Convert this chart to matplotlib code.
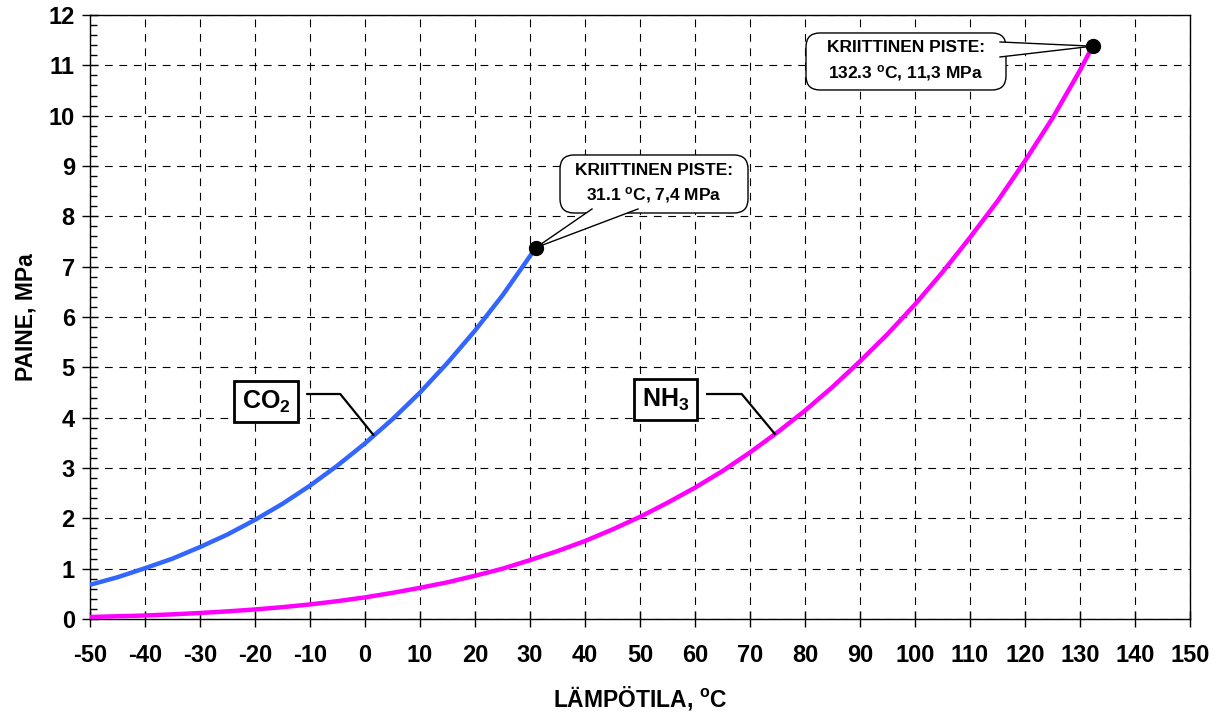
import numpy as np
import matplotlib
matplotlib.use("Agg")
import matplotlib.pyplot as plt
from matplotlib.patches import FancyBboxPatch, Polygon
from matplotlib.ticker import MultipleLocator

plt.rcParams["font.family"] = ["Liberation Sans", "DejaVu Sans"]
plt.rcParams["font.weight"] = "bold"
plt.rcParams["axes.unicode_minus"] = False
plt.rcParams["mathtext.fontset"] = "custom"
plt.rcParams["mathtext.rm"] = "Liberation Sans:bold"
plt.rcParams["mathtext.bf"] = "Liberation Sans:bold"
plt.rcParams["mathtext.it"] = "Liberation Sans:bold"

# saturation pressure curves, MPa
co2_t = [-50, -45, -40, -35, -30, -25, -20, -15, -10, -5, 0, 5, 10, 15, 20, 25, 30, 31.1]
co2_p = [0.68, 0.83, 1.01, 1.20, 1.43, 1.68, 1.97, 2.29, 2.65, 3.05, 3.49, 3.97,
         4.50, 5.09, 5.73, 6.43, 7.21, 7.38]
nh3_t = [-50, -45, -40, -35, -30, -25, -20, -15, -10, -5, 0, 5, 10, 15, 20, 25, 30,
         35, 40, 45, 50, 55, 60, 65, 70, 75, 80, 85, 90, 95, 100, 105, 110, 115,
         120, 125, 130, 132.3]
nh3_p = [0.04, 0.055, 0.07, 0.093, 0.12, 0.152, 0.19, 0.236, 0.29, 0.355, 0.43,
         0.52, 0.62, 0.73, 0.86, 1.00, 1.17, 1.35, 1.55, 1.78, 2.03, 2.31, 2.61,
         2.94, 3.31, 3.71, 4.14, 4.61, 5.12, 5.66, 6.25, 6.89, 7.58, 8.30, 9.10,
         9.95, 10.90, 11.38]
CO2_COL = "#3366ff"
NH3_COL = "#ff00ff"

fig = plt.figure(figsize=(12.2, 7.13), dpi=100)
ax = fig.add_axes([0.0738, 0.1318, 0.9016, 0.8472])

ax.plot(co2_t, co2_p, color=CO2_COL, lw=3.2, solid_capstyle="butt", zorder=3)
ax.plot(nh3_t, nh3_p, color=NH3_COL, lw=3.2, solid_capstyle="butt", zorder=3)
ax.plot(co2_t[-1], co2_p[-1], "o", color="black", ms=10, zorder=8)
ax.plot(nh3_t[-1], nh3_p[-1], "o", color="black", ms=10, zorder=8)

ax.set_xlim(-50, 150)
ax.set_ylim(0, 12)
ax.xaxis.set_major_locator(MultipleLocator(10))
ax.yaxis.set_major_locator(MultipleLocator(1))
ax.yaxis.set_minor_locator(MultipleLocator(0.2))
ax.tick_params(axis="both", which="major", direction="inout", length=12,
               width=1, labelsize=17, pad=5, color="black")
ax.tick_params(axis="x", which="major", pad=12)
ax.tick_params(axis="y", which="minor", direction="in", length=5, width=1)
ax.grid(True, which="major", color="black", lw=0.8, ls=(0, (7, 6)))
for s in ax.spines.values():
    s.set_linewidth(1.0)
    s.set_color("black")

ax.set_xlabel(r"LÄMPÖTILA, $^{\mathrm{o}}$C", fontsize=16.5, fontweight="bold", labelpad=12)
ax.set_ylabel("PAINE, MPa", fontsize=16.5, fontweight="bold", labelpad=8)

# scale helpers: pixels -> data units
XU = 200 / 1100.0
YU = 12 / 604.0


def callout(x0, y0, w, h, base, tip, text):
    box = FancyBboxPatch((x0, y0), w, h, boxstyle=f"round,pad=0,rounding_size={14 * XU}",
                         mutation_aspect=YU / XU, fc="white", ec="black", lw=1.0, zorder=6)
    ax.add_patch(box)
    (b1, b2) = base
    ax.add_patch(Polygon([b1, tip, b2], closed=True, fc="white", ec="none", zorder=7))
    ax.plot([b1[0], tip[0]], [b1[1], tip[1]], color="black", lw=1.0, zorder=7)
    ax.plot([b2[0], tip[0]], [b2[1], tip[1]], color="black", lw=1.0, zorder=7)
    ax.text(x0 + w / 2, y0 + h / 2, text, ha="center", va="center", fontsize=12.5,
            fontweight="bold", linespacing=1.5, zorder=9)


# NH3 critical point callout
callout(-50 + (806 - 90) * XU, (619 - 90) * YU, 200 * XU, 57 * YU,
        [(-50 + (1000 - 90) * XU, (619 - 42) * YU), (-50 + (1000 - 90) * XU, (619 - 57) * YU)],
        (nh3_t[-1], nh3_p[-1]),
        "KRIITTINEN PISTE:\n132.3 $^{\\mathrm{o}}$C, 11,3 MPa")
# CO2 critical point callout
callout(-50 + (560 - 90) * XU, (619 - 213) * YU, 188 * XU, 58 * YU,
        [(-50 + (592 - 90) * XU, (619 - 209) * YU), (-50 + (638 - 90) * XU, (619 - 209) * YU)],
        (co2_t[-1], co2_p[-1]),
        "KRIITTINEN PISTE:\n31.1 $^{\\mathrm{o}}$C, 7,4 MPa")

# series labels with leader lines
ax.text(-18.0, 4.32, r"CO$_\mathrm{2}$", fontsize=18, fontweight="bold", ha="center",
        va="center", zorder=9,
        bbox=dict(boxstyle="square,pad=0.3", fc="white", ec="black", lw=2.0))
ax.plot([-10.5, -4.5, 1.5], [4.47, 4.47, 3.66], color="black", lw=1.6, zorder=5)
ax.text(54.6, 4.36, r"NH$_\mathrm{3}$", fontsize=18, fontweight="bold", ha="center",
        va="center", zorder=9,
        bbox=dict(boxstyle="square,pad=0.3", fc="white", ec="black", lw=2.0))
ax.plot([62.2, 68.5, 74.5], [4.47, 4.47, 3.68], color="black", lw=1.6, zorder=5)

fig.savefig("out.png", dpi=100)
